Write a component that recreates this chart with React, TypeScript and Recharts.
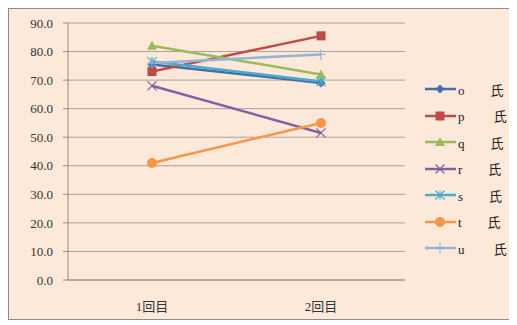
import React from 'react';
import { LineChart, Line, XAxis, YAxis, CartesianGrid, Legend } from 'recharts';

const rounds = ['1回目', '2回目'];
const oScores = [75.5, 69];
const pScores = [73, 85.5];
const qScores = [82, 72];
const rScores = [68, 51.5];
const sScores = [76.5, 69.5];
const tScores = [41, 55];
const uScores = [76, 79];
const yTicks = [0, 10, 20, 30, 40, 50, 60, 70, 80, 90];

const seriesList = [
    { key: 'o', name: 'o　　氏', color: '#3f6fb0', shape: 'diamond', values: oScores },
    { key: 'p', name: 'p　　 氏', color: '#be4b48', shape: 'square', values: pScores },
    { key: 'q', name: 'q　　氏', color: '#9bbb59', shape: 'triangle', values: qScores },
    { key: 'r', name: 'r　　氏', color: '#7e62a1', shape: 'x', values: rScores },
    { key: 's', name: 's　　氏', color: '#4bacc6', shape: 'star', values: sScores },
    { key: 't', name: 't　　氏', color: '#f79646', shape: 'circle', values: tScores },
    { key: 'u', name: 'u　　 氏', color: '#95b3d7', shape: 'plus', values: uScores },
];

const chartData = rounds.map((round, i) => {
    const row: Record<string, any> = { round };
    seriesList.forEach((s) => { row[s.key] = s.values[i]; });
    return row;
});

const FONT = '"Liberation Serif", "Noto Sans CJK JP", serif';

const Marker = ({ shape, cx, cy, color }: { shape: string; cx: number; cy: number; color: string }) => {
    const r = 4.5;
    switch (shape) {
        case 'diamond':
            return <polygon points={`${cx},${cy - r} ${cx + r},${cy} ${cx},${cy + r} ${cx - r},${cy}`} fill={color} />;
        case 'square':
            return <rect x={cx - r} y={cy - r} width={r * 2} height={r * 2} fill={color} />;
        case 'triangle':
            return <polygon points={`${cx},${cy - r - 0.5} ${cx + r + 0.5},${cy + r - 0.5} ${cx - r - 0.5},${cy + r - 0.5}`} fill={color} />;
        case 'x':
            return (
                <g stroke={color} strokeWidth={1.2}>
                    <line x1={cx - r} y1={cy - r} x2={cx + r} y2={cy + r} />
                    <line x1={cx - r} y1={cy + r} x2={cx + r} y2={cy - r} />
                </g>
            );
        case 'star':
            return (
                <g stroke={color} strokeWidth={1.2}>
                    <line x1={cx - r} y1={cy - r} x2={cx + r} y2={cy + r} />
                    <line x1={cx - r} y1={cy + r} x2={cx + r} y2={cy - r} />
                    <line x1={cx} y1={cy - r} x2={cx} y2={cy + r} />
                </g>
            );
        case 'circle':
            return <circle cx={cx} cy={cy} r={r + 0.5} fill={color} />;
        case 'plus':
            return (
                <g stroke={color} strokeWidth={1.2}>
                    <line x1={cx - r} y1={cy} x2={cx + r} y2={cy} />
                    <line x1={cx} y1={cy - r - 1} x2={cx} y2={cy + r + 1} />
                </g>
            );
        default:
            return null;
    }
};

const renderLegend = () => (
    <div style={{ fontFamily: FONT, fontSize: 13, color: '#222' }}>
        {seriesList.map((s) => (
            <div key={s.key} style={{ display: 'flex', alignItems: 'center', height: 26.5 }}>
                <svg width={32} height={14}>
                    <line x1={0} y1={7} x2={31} y2={7} stroke={s.color} strokeWidth={2.5} />
                    <Marker shape={s.shape} cx={15} cy={7} color={s.color} />
                </svg>
                <span style={{ whiteSpace: 'pre', marginLeft: 1 }}>{s.name}</span>
            </div>
        ))}
    </div>
);

export default function App() {
    return (
        <div style={{ width: 507, height: 310, background: '#fde9d9', border: '1px solid #8c8c8c', position: 'relative' }}>
            <LineChart width={505} height={309} data={chartData} margin={{ top: 14, right: 19, left: 0, bottom: 0 }}>
                <CartesianGrid vertical={false} stroke="#a8a29c" strokeWidth={1} />
                <XAxis
                    dataKey="round"
                    padding={{ left: 84, right: 84 }}
                    height={38}
                    axisLine={{ stroke: '#8c8c8c' }}
                    tickLine={false}
                    tickMargin={16}
                    tick={{ fontFamily: FONT, fontSize: 13, fill: '#333' }}
                />
                <YAxis
                    width={59}
                    domain={[0, 90]}
                    ticks={yTicks}
                    interval={0}
                    tickFormatter={(v: number) => v.toFixed(1)}
                    axisLine={{ stroke: '#8c8c8c' }}
                    tickLine={{ stroke: '#8c8c8c' }}
                    tickSize={5}
                    tickMargin={10}
                    tick={{ fontFamily: FONT, fontSize: 13, fill: '#333' }}
                />
                <Legend
                    layout="horizontal"
                    verticalAlign="middle"
                    align="right"
                    content={renderLegend}
                    wrapperStyle={{ left: 416, top: 67, width: 90 }}
                />
                {seriesList.map((s) => (
                    <Line
                        key={s.key}
                        dataKey={s.key}
                        name={s.name}
                        stroke={s.color}
                        strokeWidth={2.5}
                        isAnimationActive={false}
                        activeDot={false}
                        dot={(props: any) => (
                            <Marker key={`${s.key}-${props.index}`} shape={s.shape} cx={props.cx} cy={props.cy} color={s.color} />
                        )}
                    />
                ))}
            </LineChart>
        </div>
    );
}
